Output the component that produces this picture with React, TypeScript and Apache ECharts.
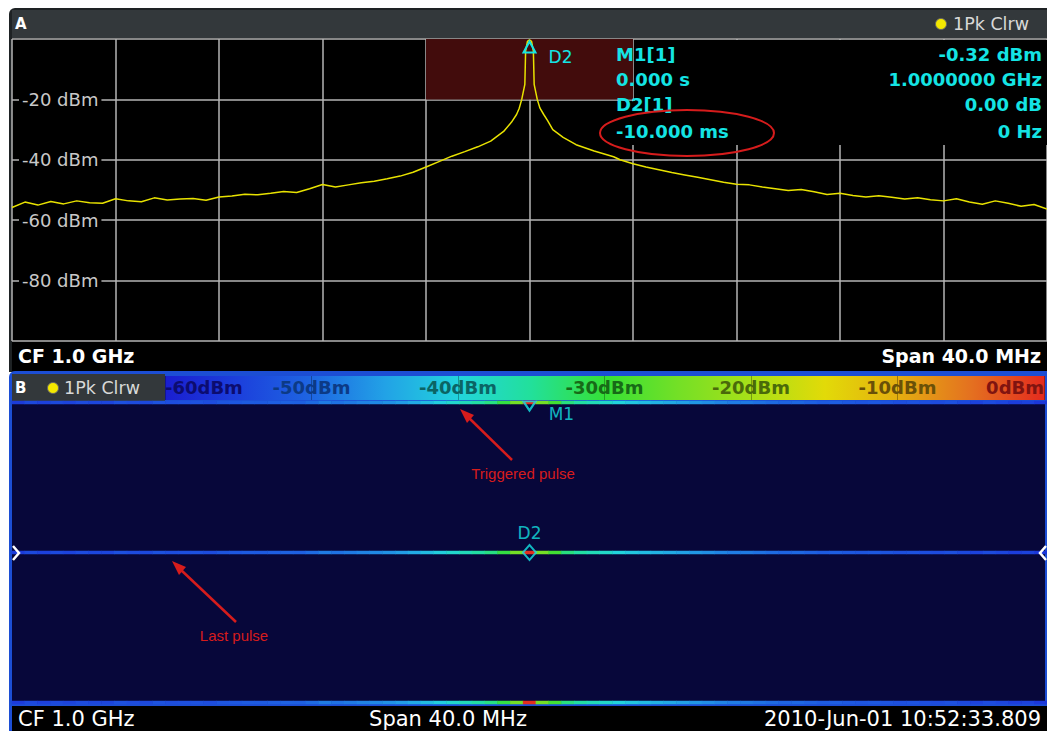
import React, { useEffect, useRef } from "react";
import * as echarts from "echarts";

// ---- Trace A (spectrum, 1.0 GHz centre, 40 MHz span) ----
const traceFreqMHz = [
  -20, -19.5, -19, -18.5, -18, -17.5, -17, -16.5, -16, -15.5, -15, -14.5, -14, -13.5, -13, -12.5, -12, -11.5, -11,
  -10.5, -10, -9.5, -9, -8.5, -8, -7.5, -7, -6.5, -6, -5.5, -5, -4.5, -4, -3.5, -3, -2.5, -2, -1.5, -1, -0.7, -0.5,
  -0.4, -0.3, -0.18, -0.15, -0.08, 0, 0.08, 0.15, 0.18, 0.3, 0.4, 0.55, 0.7, 0.9, 1.3, 1.8, 2.5, 3.25, 3.5, 4, 4.5,
  5, 5.5, 6, 6.5, 7, 7.5, 8, 8.5, 9, 9.5, 10, 10.5, 11, 11.5, 12, 12.5, 13, 13.5, 14, 14.5, 15, 15.5, 16, 16.5, 17,
  17.5, 18, 18.5, 19, 19.5, 20,
];
const traceLevelDbm = [
  -55.8, -54.0, -55.0, -53.8, -54.6, -53.6, -54.2, -54.4, -52.9, -53.6, -53.9, -52.6, -53.3, -53.0, -52.8, -53.4,
  -52.3, -52.0, -51.4, -51.6, -51.1, -50.5, -50.8, -49.6, -48.2, -49.0, -48.3, -47.6, -47.1, -46.3, -45.4, -44.1,
  -42.4, -40.6, -38.8, -37.3, -35.7, -33.8, -30.6, -27.6, -25.0, -23.0, -20.0, -15.0, -4.0, -0.8, -0.32, -0.8, -4.0,
  -15.0, -20.0, -22.8, -25.0, -27.0, -30.0, -32.6, -35.0, -37.1, -39.0, -40.0, -41.3, -42.4, -43.3, -44.2, -45.0,
  -45.8, -46.6, -47.4, -48.1, -48.3, -49.0, -49.6, -50.2, -49.8, -50.6, -51.5, -51.1, -51.8, -52.3, -51.9, -52.4,
  -53.0, -52.6, -53.2, -53.6, -52.9, -54.0, -54.7, -53.6, -54.4, -55.4, -54.8, -56.3,
];

// ---- Spectrogram B (0.5 MHz bins, -20 .. +20 MHz) ----
const wfLevelDbm = [
  -55.8, -54.0, -55.0, -53.8, -54.6, -53.6, -54.2, -54.4, -52.9, -53.6,
  -53.9, -52.6, -53.3, -53.0, -52.8, -53.4, -52.3, -52.0, -51.4, -51.6,
  -51.1, -50.5, -50.8, -49.6, -48.2, -49.0, -48.3, -47.6, -47.1, -46.3,
  -45.4, -44.1, -42.4, -40.6, -38.8, -37.3, -35.7, -33.8, -30.6, -25.0,
  -0.32,
  -25.0, -29.0, -33.6, -35.6, -37.1, -38.4, -40.0, -41.3, -42.4, -43.3,
  -44.2, -45.0, -45.8, -46.6, -47.4, -48.1, -48.3, -49.0, -49.6, -50.2,
  -49.8, -50.6, -51.5, -51.1, -51.8, -52.3, -51.9, -52.4, -53.0, -52.6,
  -53.2, -53.6, -52.9, -54.0, -54.7, -53.6, -54.4, -55.4, -54.8, -56.3,
];
const wfRowCount = 101;
const wfActiveRows = [0, 50, 100];
const wfMarkerNames = ["M1", "D2"];
const wfMarkerRows = [0, 50];
const wfMarkerBin = 40;

// ---- colour scale ----
const scaleMin = -60;
const scaleMax = 0;
const scaleColors = [
  "#1a1ed0", "#1c40dc", "#1e66e2", "#22a2e6", "#22d4dc", "#22e09a", "#36e036",
  "#74e026", "#a8e018", "#e2da08", "#e4ae10", "#e47020", "#e42a1e",
];
const scaleLabelColors: Record<string, string> = {
  "-60": "#0c0c70", "-50": "#0c3a86", "-40": "#0b6464", "-30": "#176a17",
  "-20": "#4a6a0a", "-10": "#6a5008", "0": "#801410",
};

// ---- marker table ----
const tableLeft = ["M1[1]", "0.000 s", "D2[1]", "-10.000 ms"];
const tableRight = ["-0.32 dBm", "1.0000000 GHz", "0.00 dB", "0 Hz"];
const tableRowsY = [54, 79, 104, 131];

const CYAN = "#14e4e4";
const GRID = "#b4b4b4";
const FONT = "DejaVu Sans, Verdana, sans-serif";
const RED = "#d61c1c";

function buildOption() {
  const trace = traceFreqMHz.map((f, i) => [f, traceLevelDbm[i]]);
  const binNames = wfLevelDbm.map((_, i) => String(-20 + i * 0.5));
  const rowNames = Array.from({ length: wfRowCount }, (_, i) => String(i));
  const heat: number[][] = [];
  wfActiveRows.forEach((r) => wfLevelDbm.forEach((v, i) => heat.push([i, r, v])));
  const gradStops = scaleColors.map((c, i) => ({ offset: i / (scaleColors.length - 1), color: c }));

  const txt = (text: string, x: number, y: number, o: any = {}) => ({
    type: "text",
    z: 20,
    silent: true,
    style: {
      text, x, y, fill: o.fill || "#ffffff", fontSize: o.fontSize || 17, fontFamily: o.fontFamily || FONT,
      fontWeight: o.fontWeight || "normal", align: o.align || "left", verticalAlign: "middle",
    },
  });

  const graphic: any[] = [
    // frames
    { type: "rect", z: -20, silent: true, shape: { x: 9, y: 8, width: 1038, height: 364, r: [6, 0, 0, 0] }, style: { fill: "#1e2224" } },
    { type: "rect", z: -19, silent: true, shape: { x: 12, y: 10, width: 1035, height: 28 }, style: { fill: "#33383b" } },
    { type: "rect", z: -19, silent: true, shape: { x: 12, y: 38, width: 1035, height: 333 }, style: { fill: "#000000" } },
    { type: "rect", z: -20, silent: true, shape: { x: 9, y: 371, width: 1038, height: 360, r: [6, 0, 0, 0] }, style: { fill: "#1c4ed4" } },
    { type: "rect", z: -19, silent: true, shape: { x: 12, y: 374, width: 153, height: 27 }, style: { fill: "#33383b" } },
    {
      type: "rect", z: -19, silent: true, shape: { x: 165, y: 376, width: 880, height: 24 },
      style: { fill: new echarts.graphic.LinearGradient(0, 0, 1, 0, gradStops) },
    },
    { type: "rect", z: -19, silent: true, shape: { x: 12, y: 401, width: 1033, height: 303 }, style: { fill: "#07073a" } },
    { type: "rect", z: -19, silent: true, shape: { x: 12, y: 706, width: 1035, height: 25 }, style: { fill: "#000000" } },
    // black box behind marker table
    { type: "rect", z: 8, silent: true, shape: { x: 635, y: 40, width: 412, height: 105 }, style: { fill: "#000000" } },
    { type: "rect", z: 8, silent: true, shape: { x: 613, y: 101, width: 23, height: 44 }, style: { fill: "#000000" } },
    // title A
    txt("A", 15, 24, { fontWeight: "bold", fontSize: 15 }),
    { type: "circle", z: 20, silent: true, shape: { cx: 941, cy: 24, r: 5.5 }, style: { fill: "#f4e800", stroke: "#666", lineWidth: 1 } },
    txt("1Pk Clrw", 953, 24, { fill: "#d8d8d8", fontSize: 17.5 }),
    // footer A
    txt("CF 1.0 GHz", 18, 356, { fontWeight: "bold", fontSize: 19 }),
    txt("Span 40.0 MHz", 1041, 356, { fontWeight: "bold", fontSize: 19, align: "right" }),
    // title B
    txt("B", 15, 388, { fontWeight: "bold", fontSize: 15 }),
    { type: "circle", z: 20, silent: true, shape: { cx: 53, cy: 388, r: 5.5 }, style: { fill: "#f4e800", stroke: "#666", lineWidth: 1 } },
    txt("1Pk Clrw", 64, 388, { fill: "#d8d8d8", fontSize: 17.5 }),
    // footer B
    txt("CF 1.0 GHz", 18, 719, { fontSize: 21 }),
    txt("Span 40.0 MHz", 448, 719, { fontSize: 21, align: "center" }),
    txt("2010-Jun-01 10:52:33.809", 1041, 719, { fontSize: 21, align: "right" }),
    // chevrons
    { type: "polyline", z: 20, silent: true, shape: { points: [[13, 546], [19, 553], [13, 560]] }, style: { stroke: "#ffffff", lineWidth: 2.5, fill: "none" } },
    { type: "polyline", z: 20, silent: true, shape: { points: [[1046, 546], [1040, 553], [1046, 560]] }, style: { stroke: "#ffffff", lineWidth: 2.5, fill: "none" } },
    // annotations
    { type: "ellipse", z: 21, silent: true, shape: { cx: 687, cy: 133, rx: 87, ry: 23 }, style: { fill: "none", stroke: RED, lineWidth: 2 } },
    { type: "line", z: 21, silent: true, shape: { x1: 512, y1: 460, x2: 468, y2: 417 }, style: { stroke: RED, lineWidth: 2.5 } },
    { type: "polygon", z: 21, silent: true, shape: { points: [[460, 409], [474, 415], [467, 423]] }, style: { fill: RED } },
    txt("Triggered pulse", 523, 473, { fill: RED, fontSize: 15, fontFamily: "Liberation Sans, Arial, sans-serif", align: "center" }),
    { type: "line", z: 21, silent: true, shape: { x1: 236, y1: 622, x2: 180, y2: 569 }, style: { stroke: RED, lineWidth: 2.5 } },
    { type: "polygon", z: 21, silent: true, shape: { points: [[172, 561], [186, 567], [179, 575]] }, style: { fill: RED } },
    txt("Last pulse", 234, 635, { fill: RED, fontSize: 15, fontFamily: "Liberation Sans, Arial, sans-serif", align: "center" }),
  ];
  tableLeft.forEach((t, i) => graphic.push(txt(t, 616, tableRowsY[i], { fill: CYAN, fontWeight: "bold", fontSize: 18 })));
  tableRight.forEach((t, i) => graphic.push(txt(t, 1042, tableRowsY[i], { fill: CYAN, fontWeight: "bold", fontSize: 18, align: "right" })));

  return {
    animation: false,
    backgroundColor: "#ffffff",
    grid: [
      { left: 12, top: 39, width: 1035, height: 302 },
      { left: 12, top: 401, width: 1035, height: 303 },
      { left: 165, top: 376, width: 880, height: 24 },
    ],
    xAxis: [
      {
        gridIndex: 0, type: "value", min: -20, max: 20, interval: 4,
        axisLine: { show: false }, axisTick: { show: false }, axisLabel: { show: false },
        splitLine: { show: true, lineStyle: { color: GRID, width: 1.5 } },
      },
      { gridIndex: 1, type: "category", data: binNames, show: false },
      {
        gridIndex: 2, type: "value", min: scaleMin, max: scaleMax, interval: 10, position: "bottom", z: 5,
        axisLine: { show: false }, axisTick: { show: false },
        splitLine: { show: true, lineStyle: { color: "rgba(0,0,0,0.3)", width: 1 } },
        axisLabel: {
          inside: true, margin: 4, formatter: "{value}dBm", fontSize: 18, fontWeight: "bold", fontFamily: FONT,
          color: (v: any) => scaleLabelColors[String(v)] || "#222",
          alignMinLabel: "left", alignMaxLabel: "right",
        },
      },
    ],
    yAxis: [
      {
        gridIndex: 0, type: "value", min: -100, max: 0, interval: 20,
        axisLine: { show: false }, axisTick: { show: false }, axisLabel: { show: false },
        splitLine: { show: true, lineStyle: { color: GRID, width: 1.5 } },
      },
      {
        gridIndex: 0, type: "value", min: -100, max: 0, interval: 20, position: "left", offset: 0, z: 6,
        axisLine: { show: false }, axisTick: { show: false }, splitLine: { show: false },
        axisLabel: {
          inside: true, showMinLabel: false, showMaxLabel: false, formatter: "{value} dBm", color: "#c8c8c8",
          fontSize: 18, fontFamily: FONT, backgroundColor: "#000000", padding: [0, 3, 0, 3], margin: 7,
        },
      },
      { gridIndex: 1, type: "category", data: rowNames, inverse: true, show: false },
      { gridIndex: 2, type: "value", min: 0, max: 1, show: false },
    ],
    visualMap: {
      type: "continuous", show: false, min: scaleMin, max: scaleMax, seriesIndex: 1, dimension: 2,
      inRange: { color: scaleColors },
    },
    series: [
      {
        type: "line", xAxisIndex: 0, yAxisIndex: 0, data: trace, symbol: "none", z: 3,
        lineStyle: { color: "#e8e200", width: 1.5 },
        markArea: {
          silent: true, itemStyle: { color: "#420c0c" },
          data: [[{ xAxis: -4, yAxis: 0 }, { xAxis: 4, yAxis: -20 }]],
        },
        markPoint: {
          silent: true,
          data: [{ coord: [0, -0.32], symbol: "triangle", symbolSize: [12, 11], symbolOffset: [0, 7] }],
          itemStyle: { color: "rgba(0,0,0,0)", borderColor: CYAN, borderWidth: 2 },
          label: { show: true, formatter: "D2", position: "right", distance: 12, offset: [0, 10], color: CYAN, fontSize: 17, fontFamily: FONT },
        },
      },
      {
        type: "heatmap", xAxisIndex: 1, yAxisIndex: 2, data: heat, itemStyle: { borderWidth: 0 },
        emphasis: { disabled: true },
      },
      {
        type: "scatter", xAxisIndex: 1, yAxisIndex: 2, z: 5, silent: true,
        data: wfMarkerNames.map((n, i) =>
          i === 0
            ? {
                name: n, value: [wfMarkerBin, wfMarkerRows[i]], symbol: "triangle", symbolRotate: 180,
                symbolSize: [12, 9], symbolOffset: [0, 3.5],
                label: { show: true, formatter: n, position: "right", distance: 12, offset: [0, 8], color: CYAN, fontSize: 17, fontFamily: FONT },
              }
            : {
                name: n, value: [wfMarkerBin, wfMarkerRows[i]], symbol: "diamond", symbolSize: [13, 15],
                label: { show: true, formatter: n, position: "top", distance: 2, color: CYAN, fontSize: 17, fontFamily: FONT },
              }
        ),
        itemStyle: { color: "rgba(0,0,0,0)", borderColor: CYAN, borderWidth: 2 },
      },
    ],
    graphic,
  };
}

export default function App() {
  const ref = useRef<HTMLDivElement>(null);
  useEffect(() => {
    if (!ref.current) return;
    const chart = echarts.init(ref.current, null, { renderer: "svg" });
    chart.setOption(buildOption() as any);
    return () => chart.dispose();
  }, []);
  return (
    <div
      ref={ref}
      style={{ position: "fixed", left: 0, top: 0, width: 1047, height: 731, background: "#ffffff" }}
    />
  );
}
